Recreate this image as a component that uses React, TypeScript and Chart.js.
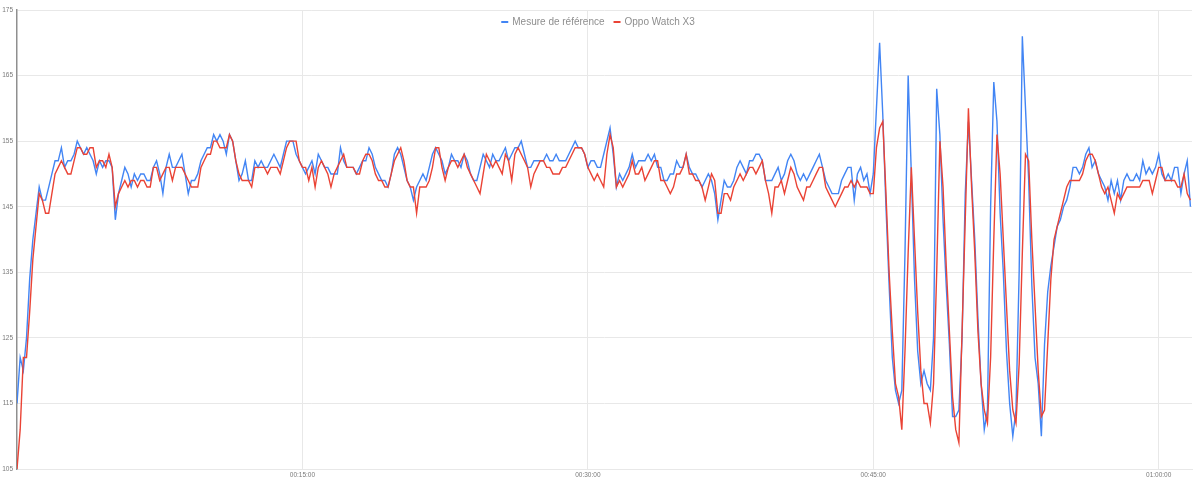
import { useEffect, useRef } from "react";
import { Chart, registerables } from "chart.js";

Chart.register(...registerables);

// Heart rate samples, one every SAMPLE_SECONDS seconds, starting at 00:00:00
const SAMPLE_SECONDS = 10;

const referenceBpm = [
  115, 122, 120, 125, 134, 140, 144, 148, 146, 146,
  148, 150, 152, 152, 154, 151, 152, 152, 153, 155,
  154, 153, 154, 153, 152, 150, 152, 151, 152, 152,
  151, 143, 147, 149, 151, 150, 148, 150, 149, 150,
  150, 149, 149, 151, 152, 150, 147, 151, 153, 151,
  151, 152, 153, 150, 147, 149, 149, 150, 152, 153,
  154, 154, 156, 155, 156, 155, 153, 156, 155, 152,
  149, 150, 152, 149, 149, 152, 151, 152, 151, 151,
  152, 153, 152, 151, 153, 155, 155, 155, 153, 152,
  151, 150, 151, 152, 150, 153, 152, 151, 151, 150,
  150, 150, 154, 152, 151, 151, 151, 150, 151, 152,
  152, 154, 153, 151, 150, 149, 149, 148, 150, 153,
  154, 153, 151, 149, 148, 146, 148, 149, 150, 149,
  151, 153, 154, 153, 152, 150, 151, 153, 152, 152,
  151, 153, 152, 150, 149, 149, 151, 153, 152, 151,
  153, 152, 152, 153, 154, 152, 153, 154, 154, 155,
  153, 151, 151, 152, 152, 152, 152, 153, 152, 152,
  153, 152, 152, 152, 153, 154, 155, 154, 154, 153,
  151, 152, 152, 151, 151, 153, 155, 157, 153, 148,
  150, 149, 150, 151, 153, 151, 152, 152, 152, 153,
  152, 153, 151, 151, 149, 149, 150, 150, 152, 151,
  151, 153, 151, 150, 150, 149, 148, 149, 150, 149,
  147, 143, 146, 149, 148, 148, 149, 151, 152, 151,
  150, 152, 152, 153, 153, 152, 149, 149, 149, 150,
  151, 149, 150, 152, 153, 152, 150, 149, 150, 149,
  150, 151, 152, 153, 151, 149, 148, 147, 147, 147,
  149, 150, 151, 151, 146, 150, 151, 149, 150, 147,
  150, 160, 170, 159, 145, 133, 122, 117, 115, 117,
  138, 165, 150, 134, 123, 118, 120, 118, 117, 125,
  163, 156, 143, 133, 124, 113, 113, 114, 125, 147,
  158, 149, 140, 128, 118, 111, 114, 145, 164, 158,
  144, 135, 123, 115, 110, 114, 135, 171, 160, 149,
  133, 122, 118, 110, 124, 132, 136, 139, 142, 143,
  145, 146, 148, 151, 151, 150, 151, 153, 154, 151,
  152, 150, 149, 148, 146, 149, 147, 149, 146, 149,
  150, 149, 149, 150, 149, 152, 150, 151, 150, 151,
  153, 150, 149, 150, 149, 151, 151, 147, 150, 152,
  145,
];

const oppoBpm = [
  105, 111, 122, 122, 129, 137, 142, 147, 146, 144,
  144, 147, 150, 151, 152, 151, 150, 150, 152, 154,
  154, 153, 153, 154, 154, 151, 152, 152, 151, 153,
  151, 145, 147, 148, 149, 148, 149, 149, 148, 149,
  149, 148, 148, 151, 151, 149, 150, 151, 151, 149,
  151, 151, 151, 150, 149, 148, 148, 148, 151, 152,
  153, 153, 155, 155, 154, 154, 154, 156, 155, 152,
  150, 149, 149, 149, 148, 151, 151, 151, 151, 150,
  151, 151, 151, 150, 152, 154, 155, 155, 155, 152,
  151, 151, 149, 151, 148, 151, 152, 151, 150, 148,
  150, 151, 152, 153, 151, 151, 151, 150, 150, 152,
  153, 153, 152, 150, 149, 149, 148, 148, 150, 152,
  153, 154, 152, 149, 148, 148, 144, 148, 148, 148,
  149, 151, 154, 154, 151, 149, 151, 152, 152, 151,
  152, 153, 151, 150, 149, 148, 147, 150, 153, 152,
  151, 152, 151, 150, 153, 152, 149, 153, 154, 153,
  152, 151, 148, 150, 151, 152, 152, 151, 151, 150,
  150, 150, 151, 151, 152, 153, 154, 154, 154, 153,
  151, 150, 149, 150, 149, 148, 153, 156, 154, 148,
  149, 148, 149, 150, 152, 150, 150, 151, 149, 150,
  151, 152, 152, 149, 149, 148, 147, 148, 150, 150,
  151, 153, 150, 150, 149, 149, 148, 146, 148, 150,
  149, 144, 144, 147, 147, 146, 148, 149, 150, 149,
  150, 151, 151, 150, 151, 152, 149, 147, 144, 148,
  148, 149, 147, 149, 151, 150, 148, 147, 146, 148,
  148, 149, 150, 151, 151, 148, 147, 146, 145, 146,
  147, 148, 148, 149, 148, 149, 148, 148, 148, 147,
  147, 154, 157, 158, 147, 135, 126, 118, 116, 111,
  123, 138, 151, 140, 129, 120, 115, 115, 112, 118,
  135, 155, 148, 136, 126, 116, 111, 109, 126, 143,
  160, 148, 138, 126, 118, 114, 112, 122, 140, 156,
  150, 140, 130, 120, 114, 112, 121, 138, 153, 152,
  140, 130, 120, 113, 114, 124, 134, 140, 142, 144,
  146, 148, 149, 149, 149, 149, 150, 152, 153, 153,
  152, 150, 148, 147, 148, 146, 144, 147, 146, 147,
  148, 148, 148, 148, 148, 149, 149, 149, 147, 149,
  151, 151, 149, 149, 149, 149, 148, 148, 150, 147,
  146,
];

const seriesNames = ["Mesure de référence", "Oppo Watch X3"];
const seriesColors = ["#4285f4", "#ea4335"];

const xTickValues = [900, 1800, 2700, 3600];
const xTickLabels = ["00:15:00", "00:30:00", "00:45:00", "01:00:00"];
const X_MAX_SECONDS = 3705;

const Y_MIN = 105;
const Y_MAX = 175;
const Y_STEP = 10;

const FONT = 'Arial, "Liberation Sans", sans-serif';

export default function App() {
  const canvasRef = useRef<HTMLCanvasElement | null>(null);

  useEffect(() => {
    const canvas = canvasRef.current;
    if (!canvas) return;

    const toPoints = (arr: number[]) =>
      arr.map((y, i) => ({ x: i * SAMPLE_SECONDS, y }));

    const legendPlugin = {
      id: "topLegend",
      afterDraw(chart: any) {
        const ctx = chart.ctx as CanvasRenderingContext2D;
        ctx.save();
        ctx.font = `10px ${FONT}`;
        ctx.textBaseline = "middle";
        ctx.textAlign = "left";
        const swatch = 7;
        const gap = 4;
        const itemGap = 9;
        const widths = seriesNames.map((n) => ctx.measureText(n).width);
        const total =
          widths.reduce((s, w) => s + swatch + gap + w, 0) +
          itemGap * (seriesNames.length - 1);
        let x = 598 - total / 2;
        const y = 22;
        seriesNames.forEach((name, i) => {
          ctx.fillStyle = seriesColors[i];
          ctx.fillRect(x, y - 1, swatch, 2);
          x += swatch + gap;
          ctx.fillStyle = "#8e8e8e";
          ctx.fillText(name, x, y);
          x += widths[i] + itemGap;
        });
        ctx.restore();
      },
    };

    const lineStyle = {
      borderWidth: 1.4,
      pointRadius: 0,
      tension: 0,
    };

    const chart = new Chart(canvas, {
      type: "line",
      data: {
        datasets: [
          {
            label: seriesNames[0],
            data: toPoints(referenceBpm),
            borderColor: seriesColors[0],
            backgroundColor: seriesColors[0],
            order: 1,
            ...lineStyle,
          },
          {
            label: seriesNames[1],
            data: toPoints(oppoBpm),
            borderColor: seriesColors[1],
            backgroundColor: seriesColors[1],
            order: 0,
            ...lineStyle,
          },
        ],
      },
      options: {
        responsive: false,
        animation: false,
        events: [],
        layout: { padding: { top: 10, right: 8, left: 0, bottom: 0 } },
        plugins: {
          legend: { display: false },
          tooltip: { enabled: false },
        },
        scales: {
          x: {
            type: "linear",
            min: 0,
            max: X_MAX_SECONDS,
            afterBuildTicks: (scale: any) => {
              scale.ticks = xTickValues.map((v) => ({ value: v }));
            },
            afterFit: (scale: any) => {
              scale.height = 14;
            },
            ticks: {
              autoSkip: false,
              maxRotation: 0,
              padding: 2,
              color: "#7a7a7a",
              font: { size: 6.5, family: FONT },
              callback: (v: any) => {
                const idx = xTickValues.indexOf(Number(v));
                return idx >= 0 ? xTickLabels[idx] : "";
              },
            },
            grid: { color: "#e8e8e8", lineWidth: 1, drawTicks: false },
            border: { color: "#e8e8e8", width: 1 },
          },
          y: {
            min: Y_MIN,
            max: Y_MAX,
            afterFit: (scale: any) => {
              scale.width = 17;
            },
            ticks: {
              stepSize: Y_STEP,
              padding: 4,
              color: "#7a7a7a",
              font: { size: 6.5, family: FONT },
            },
            grid: { color: "#e8e8e8", lineWidth: 1, drawTicks: false },
            border: { color: "#8f8f8f", width: 1.5 },
          },
        },
      },
      plugins: [legendPlugin],
    });

    return () => chart.destroy();
  }, []);

  return (
    <div
      style={{
        position: "fixed",
        left: 0,
        top: 0,
        width: 1200,
        height: 483,
        background: "#ffffff",
      }}
    >
      <canvas
        ref={canvasRef}
        width={1200}
        height={483}
        style={{ display: "block", width: 1200, height: 483 }}
      />
    </div>
  );
}
